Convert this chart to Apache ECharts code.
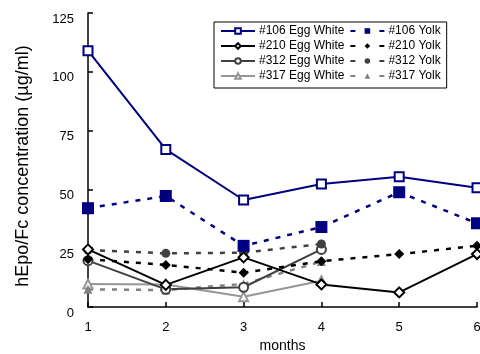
<!DOCTYPE html>
<html>
<head>
<meta charset="utf-8">
<script src="https://cdn.jsdelivr.net/npm/echarts@6/dist/echarts.min.js"></script>
<style>
  html, body { margin: 0; padding: 0; background: #fff; }
  #chart { width: 480px; height: 354px; }
</style>
</head>
<body>
<div id="chart"></div>
<script>
// months on the x axis
const months = ['1', '2', '3', '4', '5', '6'];

// hEpo/Fc concentration (ug/ml)
const ew106 = [109, 67, 45.5, 52.3, 55.4, 50.7];
const yolk106 = [42, 47.2, 26, 34, 48.8, 35.6];
const ew210 = [24.5, 9.4, 21.1, 9.6, 6.2, 22.5];
const yolk210 = [20.3, 17.9, 14.6, 19.5, 22.5, 26];
const ew312 = [19.7, 7.5, 8.4, 24.5];
const yolk312 = [24.2, 22.8, 23.1, 26.8];
const ew317 = [9.8, 9.6, 4.4, 11.2];
const yolk317 = [7.5, 7.2, 9.8, 19.3];

const chart = echarts.init(document.getElementById('chart'));

const font = 'Liberation Sans, Arial, sans-serif';

function solid(name, data, color, symbol, size) {
    return {
        name: name,
        type: 'line',
        data: data,
        symbol: symbol,
        symbolSize: size,
        showAllSymbol: true,
        lineStyle: { color: color, width: 2 },
        itemStyle: { color: color, borderColor: color, borderWidth: 1 },
        emphasis: { disabled: true }
    };
}

function dashed(name, data, color, symbol, size) {
    return {
        name: name,
        type: 'line',
        data: data,
        symbol: symbol,
        symbolSize: size,
        showAllSymbol: true,
        lineStyle: { color: color, width: 2.5, type: [5, 7] },
        itemStyle: { color: color, borderWidth: 0 },
        emphasis: { disabled: true }
    };
}

// legend entries for the yolk series: a dash either side of the marker
function yolkItem(name) {
    return { name: name, lineStyle: { type: [5, 24] } };
}

const option = {
    animation: false,
    backgroundColor: '#fff',
    grid: { left: 88, right: 3, top: 13, bottom: 47, outerBoundsMode: 'none' },
    legend: {
        left: 214,
        top: 22,
        width: 226,
        padding: [2, 2, 5, 6],
        itemGap: 1,
        itemWidth: 34,
        itemHeight: 7,
        borderColor: '#000',
        borderWidth: 1,
        backgroundColor: '#fff',
        textStyle: { fontFamily: font, fontSize: 12, lineHeight: 14, color: '#000', padding: [0, 4, 0, -1] },
        data: ['#106 Egg White', yolkItem('#106 Yolk'), '#210 Egg White', yolkItem('#210 Yolk'),
               '#312 Egg White', yolkItem('#312 Yolk'), '#317 Egg White', yolkItem('#317 Yolk')]
    },
    xAxis: {
        type: 'category',
        data: months,
        boundaryGap: false,
        name: 'months',
        nameLocation: 'middle',
        nameGap: 32,
        nameTextStyle: { fontFamily: font, fontSize: 14, color: '#000' },
        axisLine: { lineStyle: { color: '#000', width: 1.5 } },
        axisTick: { inside: true, length: 5, lineStyle: { color: '#000', width: 1.5 } },
        axisLabel: { fontFamily: font, fontSize: 13, color: '#000', margin: 14 },
        splitLine: { show: false }
    },
    yAxis: {
        type: 'value',
        min: 0,
        max: 125,
        interval: 25,
        name: 'hEpo/Fc concentration (µg/ml)',
        nameLocation: 'middle',
        nameGap: 56,
        nameTextStyle: { fontFamily: font, fontSize: 18, color: '#000', padding: [0, 0, 0, -12] },
        axisLine: { show: true, lineStyle: { color: '#000', width: 1.5 } },
        axisTick: { show: true, inside: true, length: 5, lineStyle: { color: '#000', width: 1.5 } },
        axisLabel: { fontFamily: font, fontSize: 13, color: '#000', margin: 14, verticalAlign: 'top', lineHeight: 12 },
        splitLine: { show: false }
    },
    series: [
        solid('#317 Egg White', ew317, '#969696', 'emptyTriangle', 9),
        dashed('#317 Yolk', yolk317, '#808080', 'triangle', 9),
        solid('#312 Egg White', ew312, '#404040', 'emptyCircle', 9),
        dashed('#312 Yolk', yolk312, '#404040', 'circle', 9),
        dashed('#210 Yolk', yolk210, '#000', 'diamond', 10),
        solid('#210 Egg White', ew210, '#000', 'emptyDiamond', 10),
        dashed('#106 Yolk', yolk106, '#000080', 'rect', 12),
        solid('#106 Egg White', ew106, '#000080', 'emptyRect', 9)
    ]
};

chart.setOption(option);
</script>
</body>
</html>
